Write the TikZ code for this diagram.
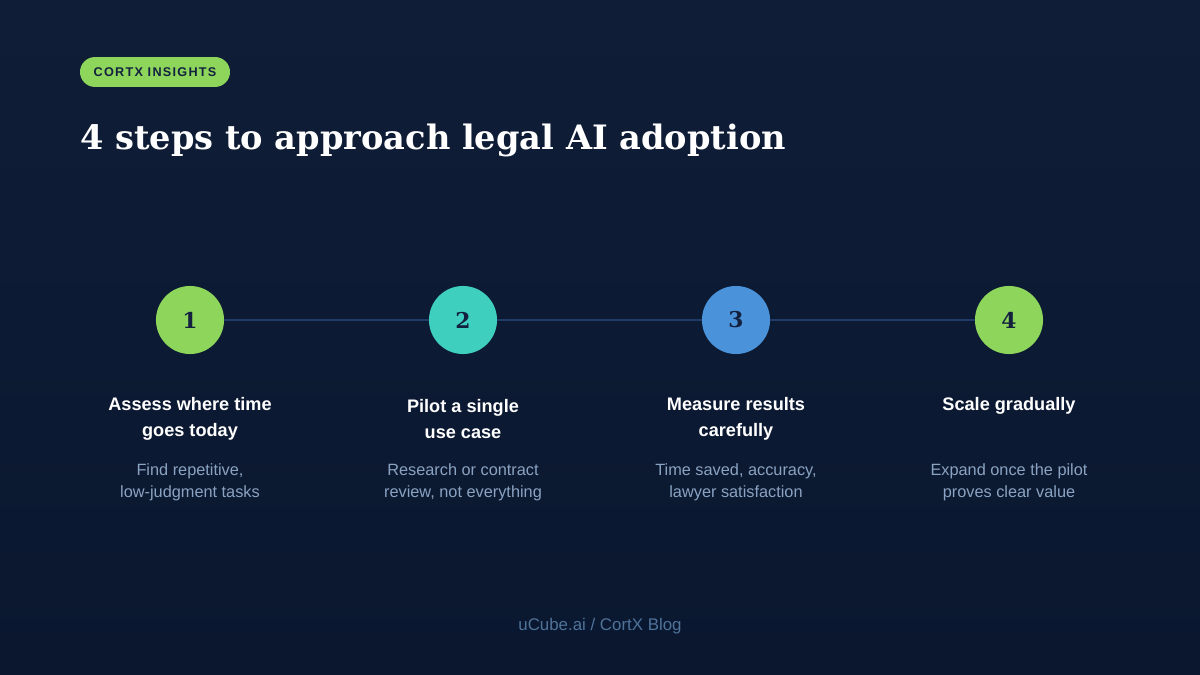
\documentclass[tikz,border=0pt]{standalone}
\usepackage{fontspec}
\setmainfont{Liberation Sans}
\newfontfamily\titlefont{DejaVu Serif}
\usetikzlibrary{positioning}

\definecolor{bgtop}{HTML}{0F1D37}
\definecolor{bgbot}{HTML}{0A172F}
\definecolor{stepgreen}{HTML}{8DD65B}
\definecolor{stepteal}{HTML}{3ECFBF}
\definecolor{stepblue}{HTML}{4A93DA}
\definecolor{linkline}{HTML}{1F3B66}
\definecolor{navy}{HTML}{13213F}
\definecolor{desctext}{HTML}{8AA3C2}
\definecolor{foottext}{HTML}{4F7399}

\tikzset{
  stepdot/.style={circle, minimum size=48.4pt, inner sep=0pt, font=\titlefont\bfseries\fontsize{15.5}{15.5}\selectfont, text=navy},
  steptitle/.style={align=center, text=white, font=\bfseries\fontsize{12.9}{18.5}\selectfont},
  stepdesc/.style={align=center, text=desctext, font=\fontsize{11.6}{15.4}\selectfont},
}

\begin{document}
\begin{tikzpicture}[x=0.025cm, y=-0.025cm]
    \shade[top color=bgtop, bottom color=bgbot] (0,0) rectangle (1200,675);
    \useasboundingbox (0,0) rectangle (1200,675);

    % badge and title
    \node[fill=stepgreen, rounded corners=10.7pt, minimum width=106.7pt, minimum height=21.3pt, inner sep=0pt,
          text=navy, font=\bfseries\fontsize{9}{9}\selectfont\addfontfeatures{LetterSpace=10}] (badge) at (155,72) {CORTX INSIGHTS};
    \node[anchor=base west, inner sep=0pt, text=white, font=\titlefont\bfseries\fontsize{23.9}{23.9}\selectfont] (title) at (80,150) {4 steps to approach legal AI adoption};

    % steps
    \node[stepdot, fill=stepgreen] (s1) at (190,320) {1};
    \node[stepdot, fill=stepteal] (s2) at (463,320) {2};
    \node[stepdot, fill=stepblue] (s3) at (736,320) {3};
    \node[stepdot, fill=stepgreen] (s4) at (1009,320) {4};
    \draw[linkline, line width=1.8pt] (s1) -- (s2);
    \draw[linkline, line width=1.8pt] (s2) -- (s3);
    \draw[linkline, line width=1.8pt] (s3) -- (s4);

    \node[steptitle] (t1) at (190,419) {Assess where time\\goes today};
    \node[steptitle] (t2) at (463,419) {Pilot a single\\use case};
    \node[steptitle] (t3) at (736,419) {Measure results\\carefully};
    \node[steptitle] (t4) at (1009,406) {Scale gradually};

    \node[stepdesc] (d1) at (190,482) {Find repetitive,\\low-judgment tasks};
    \node[stepdesc] (d2) at (463,482) {Research or contract\\review, not everything};
    \node[stepdesc] (d3) at (736,482) {Time saved, accuracy,\\lawyer satisfaction};
    \node[stepdesc] (d4) at (1009,482) {Expand once the pilot\\proves clear value};

    % footer
    \node[text=foottext, font=\fontsize{12}{12}\selectfont] (foot) at (600,626) {uCube.ai / CortX Blog};
\end{tikzpicture}
\end{document}
